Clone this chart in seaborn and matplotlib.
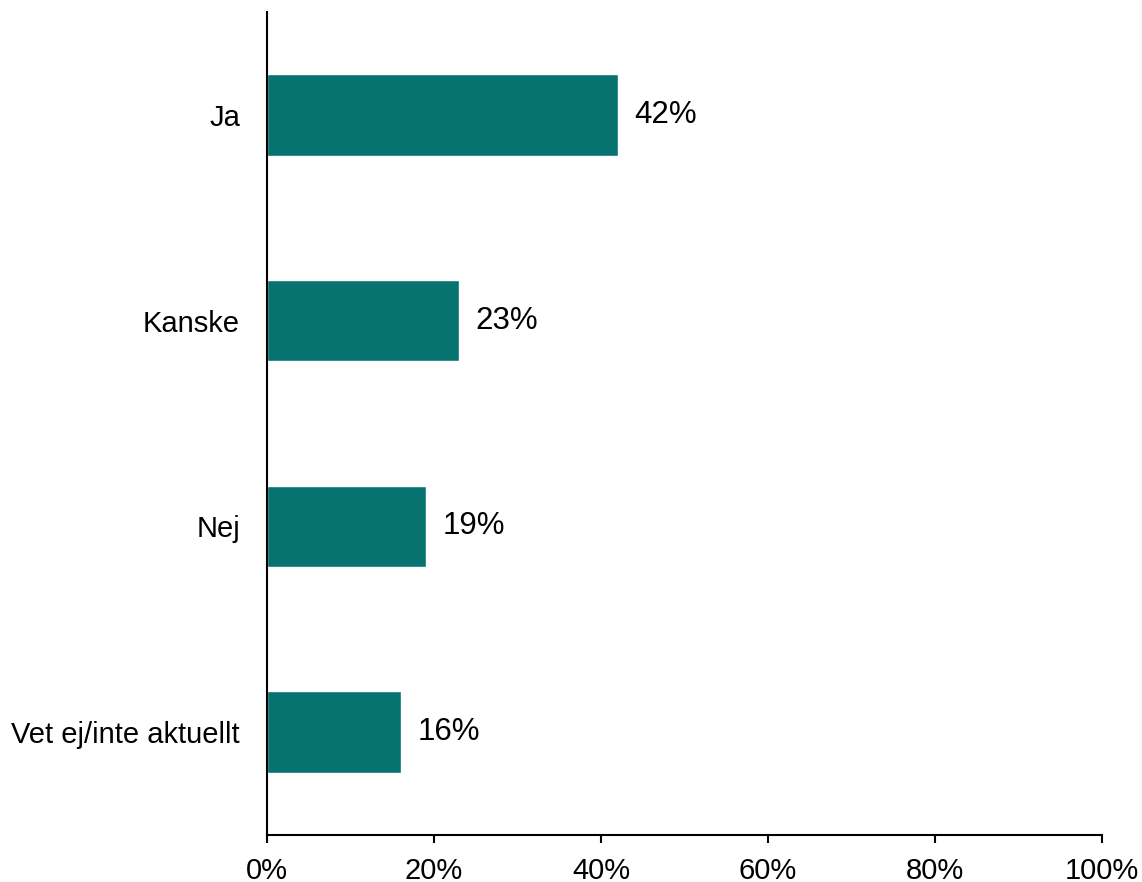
import matplotlib
matplotlib.use("Agg")
import matplotlib.pyplot as plt
import pandas as pd
import seaborn as sns
from matplotlib.ticker import PercentFormatter

categories = ["Ja", "Kanske", "Nej", "Vet ej/inte aktuellt"]
shares = [42, 23, 19, 16]

df = pd.DataFrame({"svar": categories, "andel": shares})

sns.set_theme(style="white")
plt.rcParams["font.family"] = ["Liberation Sans", "DejaVu Sans"]

fig = plt.figure(figsize=(11.42, 8.82), dpi=100)
ax = fig.add_axes([0.2338, 0.0533, 0.7312, 0.9331])

sns.barplot(data=df, x="andel", y="svar", color="#077370", saturation=1,
            width=0.395, ax=ax)

# value labels to the right of each bar
for i, v in enumerate(shares):
    ax.text(v + 2, i, f"{v}%", va="center", ha="left", fontsize=22.5, color="black")

ax.set_xlim(0, 100)
ax.set_ylim(3.5, -0.5)
ax.set_xticks(range(0, 101, 20))
ax.xaxis.set_major_formatter(PercentFormatter(decimals=0))
ax.set_xlabel("")
ax.set_ylabel("")
ax.tick_params(axis="x", labelsize=21, length=6, width=1.5, color="black",
               direction="out", bottom=True, pad=10, labelcolor="black")
ax.tick_params(axis="y", labelsize=21, length=0, pad=19.5, labelcolor="black")
for side in ["top", "right"]:
    ax.spines[side].set_visible(False)
for side in ["left", "bottom"]:
    ax.spines[side].set_color("black")
    ax.spines[side].set_linewidth(1.5)

fig.savefig("out.png", dpi=100)
